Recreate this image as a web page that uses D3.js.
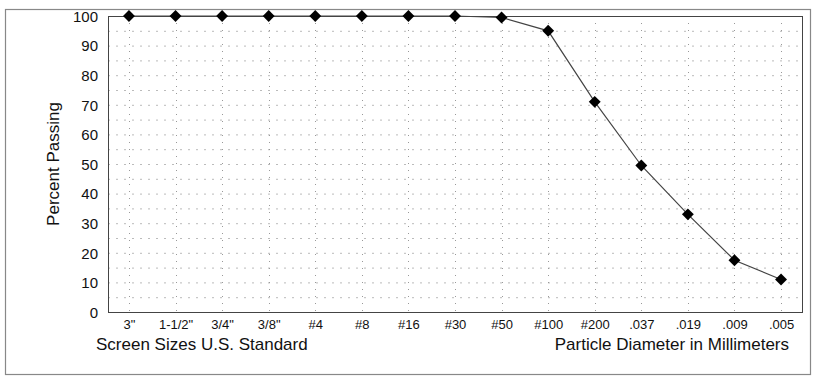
<!DOCTYPE html>
<html lang="en">
<head>
    <meta charset="UTF-8">
    <title>Percent Passing</title>
    <script src="https://d3js.org/d3.v7.min.js"></script>
    <style>
        body { margin: 0; background: #fff; }
        text { font-family: "Liberation Sans", Arial, sans-serif; fill: #111; }
    </style>
</head>
<body>
    <script>
        // sieve sizes along the bottom and percent passing
        const sizes = ['3"', '1-1/2"', '3/4"', '3/8"', '#4', '#8', '#16', '#30', '#50', '#100', '#200', '.037', '.019', '.009', '.005'];
        const passing = [100, 100, 100, 100, 100, 100, 100, 100, 99.5, 95, 71, 49.5, 33, 17.5, 11];
        const yTicks = [0, 10, 20, 30, 40, 50, 60, 70, 80, 90, 100];
        const yGrid = d3.range(5, 100, 5);

        let width = 813,
            height = 377;
        let plot = { left: 108, top: 16, right: 802, bottom: 312 };

        let svg = d3.select('body').append('svg')
                    .attr('width', width)
                    .attr('height', height);

        // outer frame of the scanned figure
        svg.append('rect')
           .attr('x', 5.5).attr('y', 9.5)
           .attr('width', 805).attr('height', 365)
           .attr('fill', 'none')
           .attr('stroke', '#888')
           .attr('stroke-width', 1.2);

        let x = d3.scalePoint()
                  .domain(sizes)
                  .range([plot.left, plot.right])
                  .padding(0.45);
        let y = d3.scaleLinear()
                  .domain([0, 100])
                  .range([plot.bottom, plot.top]);

        // grid
        svg.append('g').selectAll('line')
           .data(yGrid)
           .join('line')
           .attr('x1', plot.left).attr('x2', plot.right)
           .attr('y1', d => y(d) + 0.5).attr('y2', d => y(d) + 0.5)
           .attr('stroke', '#bbb')
           .attr('stroke-dasharray', '2,6');
        svg.append('g').selectAll('line')
           .data(sizes)
           .join('line')
           .attr('x1', d => Math.round(x(d)) + 0.5).attr('x2', d => Math.round(x(d)) + 0.5)
           .attr('y1', plot.top).attr('y2', plot.bottom)
           .attr('stroke', '#999')
           .attr('stroke-dasharray', '1,6');

        // plot box
        svg.append('rect')
           .attr('x', plot.left + 0.5).attr('y', plot.top + 0.5)
           .attr('width', plot.right - plot.left).attr('height', plot.bottom - plot.top)
           .attr('fill', 'none')
           .attr('stroke', '#444');

        // y axis
        let yAxis = d3.axisLeft(y).tickValues(yTicks).tickSize(0).tickPadding(10);
        let gy = svg.append('g')
                    .attr('transform', `translate(${plot.left},0)`)
                    .call(yAxis);
        gy.select('.domain').remove();
        gy.selectAll('text').style('font-size', '15px').attr('dy', '0.35em');

        // x axis
        let xAxis = d3.axisBottom(x).tickSize(0).tickPadding(8);
        let gx = svg.append('g')
                    .attr('transform', `translate(0,${plot.bottom})`)
                    .call(xAxis);
        gx.select('.domain').remove();
        gx.selectAll('text').style('font-size', '13px');

        svg.append('text')
           .attr('transform', `translate(59,${(plot.top + plot.bottom) / 2}) rotate(-90)`)
           .attr('text-anchor', 'middle')
           .style('font-size', '17px')
           .text('Percent Passing');
        svg.append('text')
           .attr('x', 96).attr('y', 350)
           .style('font-size', '17px')
           .text('Screen Sizes U.S. Standard');
        svg.append('text')
           .attr('x', 789).attr('y', 350)
           .attr('text-anchor', 'end')
           .style('font-size', '17px')
           .text('Particle Diameter in Millimeters');

        // curve and markers
        let line = d3.line()
                     .x((d, i) => x(sizes[i]))
                     .y(d => y(d));
        svg.append('path')
           .datum(passing)
           .attr('d', line)
           .attr('fill', 'none')
           .attr('stroke', '#444')
           .attr('stroke-width', 1.2);

        let diamond = d3.symbol().type(d3.symbolDiamond2).size(90);
        svg.append('g').selectAll('path')
           .data(passing)
           .join('path')
           .attr('transform', (d, i) => `translate(${x(sizes[i])},${y(d)})`)
           .attr('d', diamond)
           .attr('fill', '#000');
    </script>
</body>
</html>
